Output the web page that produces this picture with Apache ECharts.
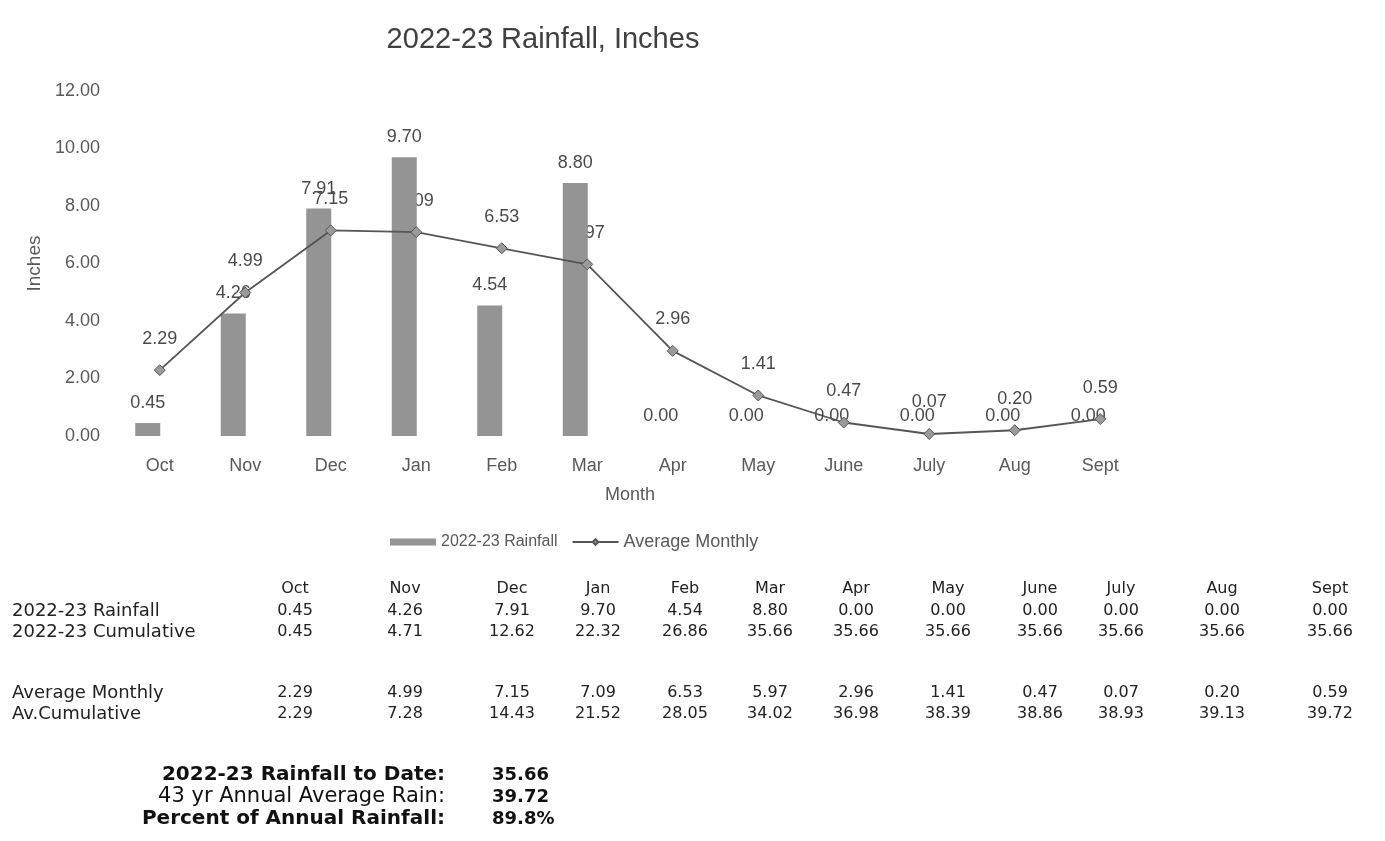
<!DOCTYPE html>
<html><head><meta charset="utf-8">
<script src="https://cdn.jsdelivr.net/npm/echarts@6/dist/echarts.min.js"></script>
<style>html,body{margin:0;padding:0;background:#fff}#c{width:1385px;height:841px}</style>
</head><body><div id="c"></div>
<script>
const months = ['Oct','Nov','Dec','Jan','Feb','Mar','Apr','May','June','July','Aug','Sept'];
const rainfall = [0.45,4.26,7.91,9.70,4.54,8.80,0.00,0.00,0.00,0.00,0.00,0.00];
const cumulative = [0.45,4.71,12.62,22.32,26.86,35.66,35.66,35.66,35.66,35.66,35.66,35.66];
const avgMonthly = [2.29,4.99,7.15,7.09,6.53,5.97,2.96,1.41,0.47,0.07,0.20,0.59];
const avCumulative = [2.29,7.28,14.43,21.52,28.05,34.02,36.98,38.39,38.86,38.93,39.13,39.72];
const rowLabels = ['2022-23 Rainfall','2022-23 Cumulative','Average Monthly','Av.Cumulative'];
const summaryLabels = ['2022-23 Rainfall to Date:','43 yr Annual Average Rain:','Percent of Annual Rainfall:'];
const summaryValues = ['35.66','39.72','89.8%'];

const chart = echarts.init(document.getElementById('c'));
const fmt = p => Number(p.value).toFixed(2);
const tfont = '"DejaVu Sans", Verdana, sans-serif';
const cfont = '"Liberation Sans", Arial, sans-serif';
const txt = '#4a4a4a';

// table layout
const colX = [295,405,512,598,685,770,856,948,1040,1121,1222,1330];
const rowY = [611,632,693,714];
const rows = [rainfall,cumulative,avgMonthly,avCumulative];
const g = [];
months.forEach((m,i)=>g.push({type:'text',x:colX[i],y:589,style:{text:m,font:'16px '+tfont,fill:'#222',textAlign:'center',textVerticalAlign:'middle'}}));
rows.forEach((r,ri)=>{
  g.push({type:'text',x:12,y:rowY[ri],style:{text:rowLabels[ri],font:'18px '+tfont,fill:'#222',textAlign:'left',textVerticalAlign:'middle'}});
  r.forEach((v,i)=>g.push({type:'text',x:colX[i],y:rowY[ri],style:{text:v.toFixed(2),font:'16px '+tfont,fill:'#222',textAlign:'center',textVerticalAlign:'middle'}}));
});
const sumY=[775,797,819];
summaryLabels.forEach((s,i)=>{
  const f = i===1?'21px ':'bold 20px ';
  g.push({type:'text',x:445,y:sumY[i],style:{text:s,font:f+tfont,fill:'#111',textAlign:'right',textVerticalAlign:'middle'}});
  g.push({type:'text',x:492,y:sumY[i],style:{text:summaryValues[i],font:'bold 18px '+tfont,fill:'#111',textAlign:'left',textVerticalAlign:'middle'}});
});

chart.setOption({
  animation:false,
  title:{text:'2022-23 Rainfall, Inches',left:538,top:20,textAlign:'center',textStyle:{fontFamily:cfont,fontWeight:'normal',fontSize:29,color:'#404040'}},
  legend:{data:[{name:'2022-23 Rainfall',icon:'rect',textStyle:{fontSize:16}},{name:'Average Monthly',textStyle:{fontSize:18}}],
    left:385,top:528,itemWidth:46,itemHeight:7,itemGap:14,
    textStyle:{fontFamily:cfont,fontSize:16,color:'#595959'}},
  grid:[{left:117,right:242,top:91,bottom:405},{left:105,right:254,top:91,bottom:405}],
  xAxis:[
    {type:'category',data:months,gridIndex:0,axisLine:{show:false},axisTick:{show:false},
     axisLabel:{margin:21,fontFamily:cfont,fontSize:18,color:'#595959'},
     name:'Month',nameLocation:'middle',nameGap:50,nameTextStyle:{fontFamily:cfont,fontSize:18,color:'#595959'}},
    {type:'category',data:months,gridIndex:1,show:false}
  ],
  yAxis:[
    {type:'value',min:0,max:12,interval:2,gridIndex:0,splitLine:{show:false},axisLine:{show:false},
     axisLabel:{margin:17,formatter:v=>v.toFixed(2),fontFamily:cfont,fontSize:18,color:'#595959'},
     name:'Inches',nameLocation:'middle',nameGap:68,nameTextStyle:{fontFamily:cfont,fontSize:19,color:'#595959'}},
    {type:'value',min:0,max:12,interval:2,gridIndex:1,show:false}
  ],
  series:[
    {name:'2022-23 Rainfall',type:'bar',data:rainfall,xAxisIndex:1,yAxisIndex:1,barWidth:25,z:3,
     itemStyle:{color:'#949494'},
     label:{show:true,position:'top',distance:11,formatter:fmt,fontFamily:cfont,fontSize:18,color:txt}},
    {name:'Average Monthly',type:'line',data:avgMonthly,xAxisIndex:0,yAxisIndex:0,z:4,
     symbol:'diamond',symbolSize:11,lineStyle:{color:'#555',width:1.8},
     itemStyle:{color:'#9a9a9a',borderColor:'#555',borderWidth:1}},
    {name:'avg-labels',type:'line',data:avgMonthly,xAxisIndex:0,yAxisIndex:0,z:2,
     symbol:'circle',symbolSize:11,showSymbol:true,lineStyle:{width:0,color:'transparent'},silent:true,
     itemStyle:{color:'transparent',borderWidth:0},
     label:{show:true,position:'top',distance:17,formatter:fmt,fontFamily:cfont,fontSize:18,color:txt}}
  ],
  graphic:g
});
</script></body></html>
